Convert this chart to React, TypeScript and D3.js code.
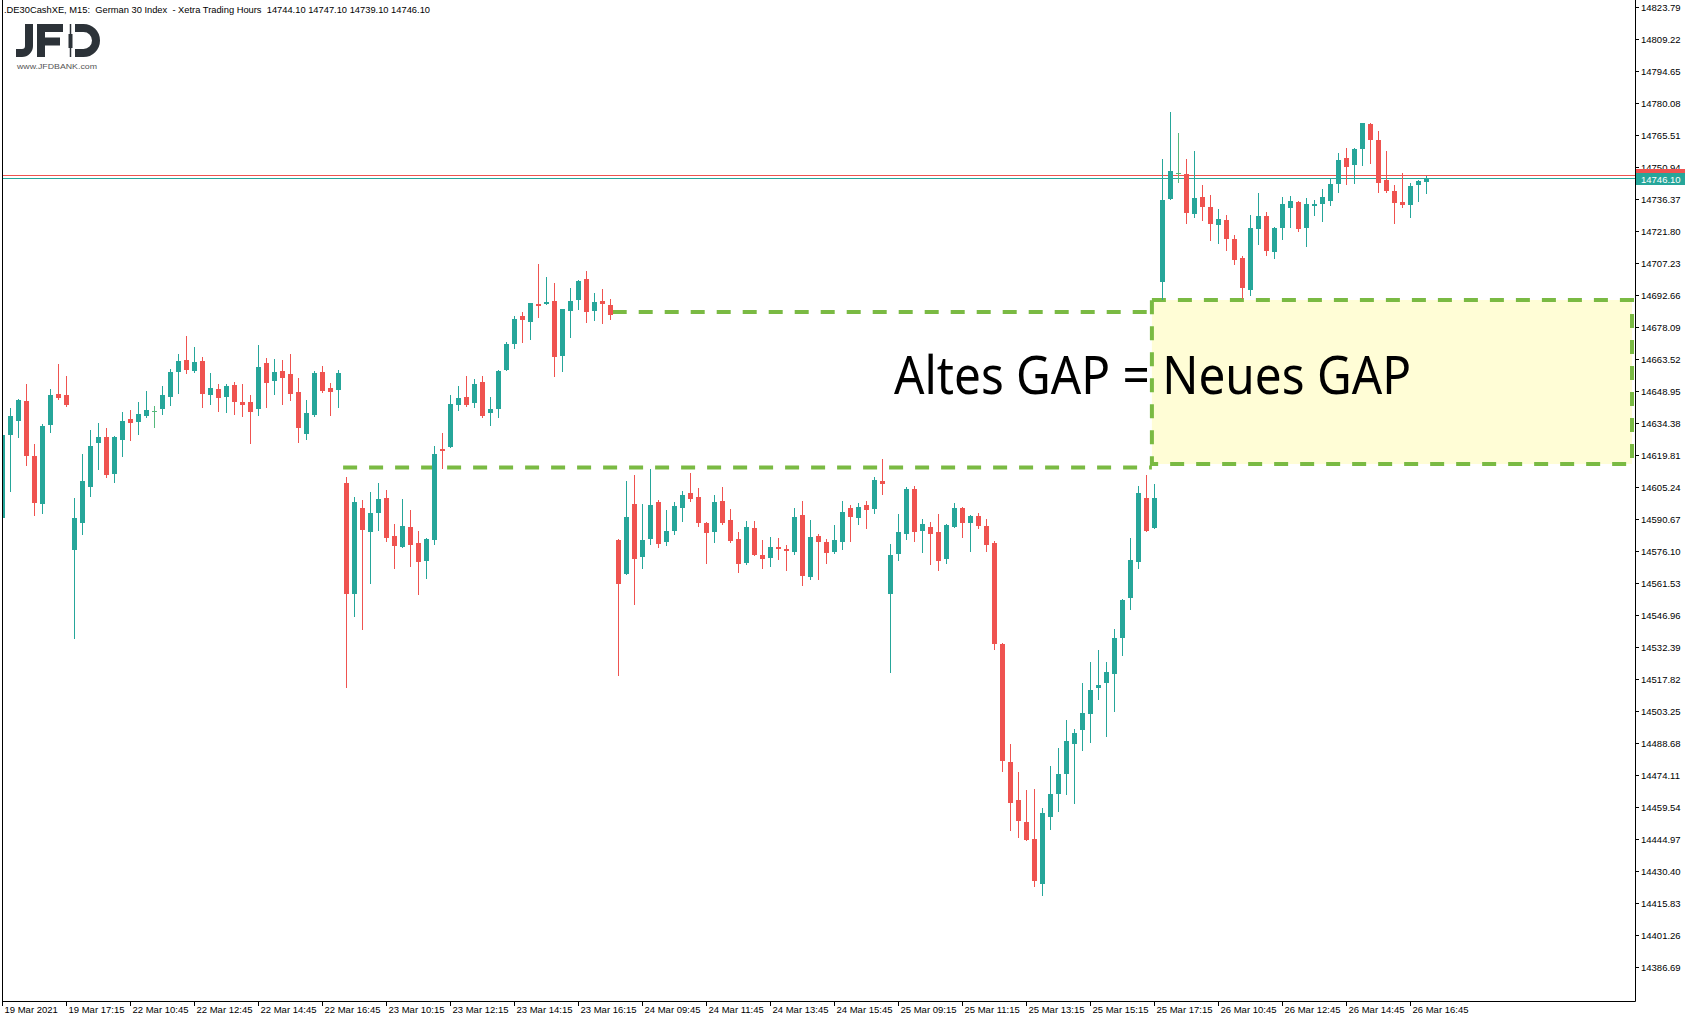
import React, { useEffect } from 'react';
import * as d3 from 'd3';

const W = 1693;
const H = 1020;

// ---- categories (M15 bars, Xetra hours 09:00 - 17:15) ----
const days = ['19 Mar', '22 Mar', '23 Mar', '24 Mar', '25 Mar', '26 Mar'];
const firstDayStartSlot = 25; // 19 Mar starts at 15:15 in view

const opens = [
  14591.4, 14629.0, 14635.6, 14644.5, 14619.5, 14597.8, 14633.7, 14647.7, 14647.2,
  14576.8, 14589.1, 14605.5, 14625.5, 14628.1, 14611.4, 14626.9, 14636.3, 14635.0, 14637.7, 14640.0,
  14640.9, 14646.3, 14657.7, 14663.2, 14658.2, 14662.7, 14647.2, 14650.0, 14646.3, 14651.8,
  14644.1, 14644.1, 14640.9, 14661.8, 14653.6, 14658.2, 14656.8, 14648.6, 14629.5, 14638.1,
  14657.7, 14650.4, 14649.5,
  14607.2, 14556.8, 14595.8, 14585.0, 14593.7, 14600.3, 14583.0, 14578.2, 14587.1, 14579.8,
  14571.8, 14581.4, 14622.8, 14623.7, 14642.8, 14646.3, 14643.8, 14653.2, 14639.2, 14641.0,
  14658.8, 14670.6, 14683.2, 14680.6, 14688.7, 14688.8, 14690.1, 14665.2, 14685.7, 14690.7,
  14700.1, 14685.7, 14690.1, 14688.2,
  14581.2, 14565.9, 14597.6, 14573.6, 14581.8, 14598.5, 14580.3, 14585.3, 14596.0, 14602.6,
  14600.8, 14589.0, 14585.0, 14599.0, 14590.3, 14581.7, 14570.9, 14586.7, 14574.4, 14573.2,
  14578.0, 14577.1, 14575.9, 14592.6, 14564.5, 14583.1, 14580.3, 14575.9, 14580.5, 14595.8,
  14591.4, 14597.2, 14595.5, 14608.1,
  14556.8, 14575.0, 14584.1, 14604.5, 14585.5, 14587.2, 14584.9, 14572.7, 14587.3, 14595.8,
  14589.1, 14592.2, 14587.6, 14579.9, 14534.0, 14480.1, 14462.8, 14452.8, 14445.1, 14424.7,
  14455.2, 14465.7, 14474.8, 14488.5, 14494.9, 14502.1, 14514.0, 14516.3, 14520.4, 14536.8,
  14555.0, 14571.4, 14600.4, 14586.9,
  14698.8, 14736.6, 14748.3, 14747.9, 14729.8, 14737.4, 14732.8, 14724.8, 14726.9, 14718.3,
  14709.6, 14695.2, 14723.0, 14728.7, 14712.5, 14723.4, 14732.5, 14735.1, 14723.4, 14733.5,
  14734.4, 14735.7, 14743.5, 14755.2, 14752.1, 14759.4, 14770.6, 14763.4, 14745.1, 14740.1,
  14735.1, 14733.9, 14743.0, 14744.1,
];
const highs = [
  14629.5, 14641.3, 14645.3, 14652.3, 14624.9, 14634.0, 14650.0, 14661.5, 14656.1,
  14600.3, 14620.4, 14631.3, 14634.5, 14632.2, 14628.4, 14639.5, 14640.4, 14644.1, 14649.1, 14642.2,
  14651.3, 14659.1, 14665.9, 14674.3, 14669.1, 14664.6, 14657.3, 14652.3, 14652.3, 14653.2,
  14652.3, 14647.2, 14670.0, 14664.1, 14663.6, 14663.2, 14665.9, 14655.0, 14645.0, 14658.2,
  14660.5, 14652.7, 14658.6,
  14609.9, 14600.8, 14599.4, 14603.1, 14607.2, 14604.0, 14588.5, 14599.9, 14594.9, 14585.3,
  14581.9, 14624.0, 14629.9, 14647.2, 14651.3, 14655.9, 14654.5, 14655.9, 14646.3, 14658.4,
  14671.4, 14683.2, 14685.0, 14689.3, 14706.9, 14701.0, 14698.3, 14686.6, 14696.0, 14699.6,
  14703.7, 14693.7, 14695.5, 14691.0,
  14581.5, 14608.1, 14610.8, 14597.6, 14613.6, 14599.5, 14594.9, 14598.5, 14603.6, 14611.7,
  14604.9, 14589.3, 14601.7, 14605.4, 14595.4, 14584.9, 14589.9, 14589.9, 14581.2, 14582.6,
  14582.1, 14579.0, 14595.8, 14599.0, 14590.3, 14584.0, 14581.7, 14588.1, 14599.0, 14597.2,
  14598.1, 14599.0, 14609.9, 14618.1,
  14579.4, 14593.1, 14605.4, 14605.8, 14590.8, 14589.4, 14593.1, 14588.5, 14598.1, 14596.3,
  14592.6, 14593.5, 14590.8, 14580.8, 14534.3, 14488.3, 14475.6, 14467.4, 14467.8, 14459.2,
  14478.3, 14486.5, 14499.3, 14495.2, 14516.1, 14525.7, 14531.1, 14525.7, 14540.7, 14554.4,
  14582.1, 14605.8, 14610.8, 14606.7,
  14754.7, 14776.1, 14766.5, 14754.7, 14758.3, 14742.9, 14738.3, 14731.9, 14729.2, 14720.1,
  14710.5, 14729.2, 14739.2, 14730.6, 14723.7, 14737.4, 14737.9, 14735.6, 14736.9, 14736.0,
  14741.0, 14745.6, 14757.4, 14759.7, 14759.7, 14771.1, 14771.1, 14767.5, 14758.3, 14742.9,
  14748.3, 14743.8, 14745.3, 14747.1,
];
const lows = [
  14590.5, 14603.7, 14628.3, 14615.5, 14592.8, 14593.7, 14630.5, 14645.4, 14642.4,
  14536.7, 14584.1, 14601.4, 14613.7, 14610.1, 14607.8, 14619.6, 14626.9, 14629.5, 14637.4, 14632.7,
  14638.6, 14642.7, 14648.2, 14657.4, 14657.9, 14641.8, 14643.2, 14640.0, 14639.5, 14638.6,
  14637.7, 14625.4, 14638.1, 14641.8, 14647.7, 14643.2, 14645.0, 14625.9, 14627.2, 14637.8,
  14648.8, 14638.1, 14641.8,
  14514.4, 14546.8, 14540.8, 14561.8, 14585.9, 14580.9, 14568.6, 14577.9, 14569.5, 14556.8,
  14564.1, 14579.5, 14614.2, 14623.4, 14640.6, 14642.4, 14641.9, 14637.4, 14633.7, 14637.4,
  14658.5, 14668.8, 14671.4, 14672.8, 14682.9, 14688.5, 14656.1, 14658.3, 14673.8, 14686.6,
  14680.6, 14681.6, 14680.2, 14682.0,
  14519.9, 14565.6, 14552.2, 14568.6, 14579.6, 14578.2, 14579.1, 14584.1, 14590.0, 14599.1,
  14587.8, 14570.9, 14580.5, 14588.7, 14580.5, 14566.8, 14570.5, 14574.4, 14568.6, 14569.5,
  14572.7, 14567.7, 14575.0, 14560.9, 14563.6, 14563.6, 14570.9, 14575.5, 14577.3, 14580.9,
  14588.7, 14586.9, 14593.7, 14602.3,
  14521.3, 14572.3, 14581.8, 14580.9, 14575.9, 14570.5, 14567.7, 14570.9, 14587.0, 14582.8,
  14576.4, 14586.9, 14576.4, 14531.7, 14476.2, 14449.3, 14446.1, 14444.5, 14423.8, 14419.7,
  14449.8, 14458.0, 14465.7, 14461.6, 14485.8, 14489.4, 14509.0, 14492.1, 14503.5, 14529.0,
  14550.0, 14568.6, 14585.2, 14586.6,
  14690.8, 14736.3, 14744.4, 14725.7, 14728.4, 14727.1, 14718.0, 14716.6, 14713.4, 14707.0,
  14691.6, 14692.9, 14716.1, 14711.1, 14709.6, 14718.4, 14723.9, 14722.1, 14715.2, 14729.4,
  14726.6, 14733.9, 14739.8, 14743.5, 14743.9, 14752.1, 14753.0, 14739.8, 14739.8, 14725.7,
  14733.0, 14728.4, 14735.7, 14739.1,
];
const closes = [
  14629.0, 14637.7, 14645.0, 14619.6, 14598.2, 14633.1, 14647.2, 14645.9, 14642.7,
  14591.2, 14608.1, 14624.0, 14628.1, 14611.0, 14628.1, 14635.4, 14634.5, 14638.6, 14640.4, 14640.0,
  14647.2, 14657.7, 14662.7, 14658.6, 14662.3, 14647.9, 14650.4, 14645.9, 14651.3, 14644.1,
  14642.9, 14639.5, 14660.0, 14652.7, 14657.7, 14655.0, 14647.7, 14632.2, 14639.1, 14657.3,
  14649.1, 14648.6, 14657.3,
  14556.8, 14598.5, 14585.9, 14593.5, 14599.9, 14582.3, 14578.6, 14587.6, 14579.1, 14571.3,
  14581.7, 14620.4, 14621.9, 14643.2, 14645.9, 14642.8, 14652.3, 14637.8, 14641.0, 14658.2,
  14670.5, 14681.9, 14681.6, 14689.1, 14687.9, 14689.6, 14664.7, 14686.4, 14690.1, 14699.2,
  14685.2, 14689.6, 14688.8, 14683.8,
  14561.3, 14591.7, 14572.7, 14581.2, 14597.2, 14579.6, 14585.3, 14596.7, 14601.7, 14600.1,
  14589.1, 14584.6, 14598.5, 14589.1, 14580.9, 14570.5, 14587.2, 14574.6, 14572.7, 14578.0,
  14577.3, 14576.4, 14591.7, 14565.0, 14582.6, 14580.5, 14575.5, 14581.2, 14594.0, 14591.9,
  14596.3, 14595.0, 14608.6, 14606.9,
  14574.4, 14584.9, 14604.5, 14585.0, 14588.5, 14584.1, 14571.8, 14588.1, 14595.8, 14589.1,
  14592.2, 14587.8, 14579.1, 14534.0, 14480.7, 14461.6, 14453.4, 14444.8, 14426.1, 14456.9,
  14465.6, 14474.7, 14489.7, 14493.3, 14502.5, 14512.9, 14515.2, 14521.1, 14536.6, 14553.9,
  14572.1, 14602.6, 14585.5, 14600.4,
  14736.0, 14749.2, 14748.3, 14730.3, 14736.9, 14733.0, 14725.3, 14727.4, 14718.4, 14708.9,
  14696.1, 14723.3, 14728.7, 14713.0, 14723.3, 14734.2, 14735.6, 14723.0, 14734.2, 14734.1,
  14737.4, 14743.3, 14754.3, 14751.2, 14759.3, 14771.1, 14763.5, 14743.9, 14740.3, 14734.8,
  14733.9, 14742.4, 14744.8, 14746.1,
];

const priceTicks = [
  14823.79, 14809.22, 14794.65, 14780.08, 14765.51, 14750.94, 14736.37, 14721.80, 14707.23,
  14692.66, 14678.09, 14663.52, 14648.95, 14634.38, 14619.81, 14605.24, 14590.67, 14576.10,
  14561.53, 14546.96, 14532.39, 14517.82, 14503.25, 14488.68, 14474.11, 14459.54, 14444.97,
  14430.40, 14415.83, 14401.26, 14386.69,
];
const timeTickLabels = [
  '19 Mar 2021', '19 Mar 17:15', '22 Mar 10:45', '22 Mar 12:45', '22 Mar 14:45', '22 Mar 16:45',
  '23 Mar 10:15', '23 Mar 12:15', '23 Mar 14:15', '23 Mar 16:15', '24 Mar 09:45', '24 Mar 11:45',
  '24 Mar 13:45', '24 Mar 15:45', '25 Mar 09:15', '25 Mar 11:15', '25 Mar 13:15', '25 Mar 15:15',
  '25 Mar 17:15', '26 Mar 10:45', '26 Mar 12:45', '26 Mar 14:45', '26 Mar 16:45',
];

const bidPrice = 14746.1;
const askPrice = 14747.3;
const headerText = '.DE30CashXE, M15:  German 30 Index  - Xetra Trading Hours  14744.10 14747.10 14739.10 14746.10';

// annotation (price levels / bar positions)
const oldGapTop = 14685.0;
const oldGapBottom = 14614.2;
const oldGapTopFromBar = 76.3;
const oldGapBottomFromBar = 42.6;
const newGapTop = 14690.5;
const newGapBottom = 14615.8;
const newGapFromBar = 143.7;
const annotationText = 'Altes GAP = Neues GAP';
const annotationPrice = 14647.5;

// build bar times
const pad = (n: number) => (n < 10 ? '0' + n : '' + n);
const times: string[] = [];
days.forEach((d, di) => {
  for (let s = di === 0 ? firstDayStartSlot : 0; s < 34; s++) {
    const mins = 9 * 60 + s * 15;
    times.push(`${d} ${pad(Math.floor(mins / 60))}:${pad(mins % 60)}`);
  }
});

const UP = '#26a69a';
const DOWN = '#ef5350';
const DOJI = '#55b97c';
const GAPGREEN = '#7aba43';
const AXISFONT = "'Liberation Sans', Arial, sans-serif";

export default function App() {
  useEffect(() => {
    document.body.style.margin = '0';
  }, []);

  const plotL = 2, plotR = 1635, plotT = 0, plotB = 1001;
  const n = opens.length;
  const x = d3.scaleLinear().domain([0, n - 1]).range([2.3, 2.3 + 8 * (n - 1)]);
  const y = d3.scaleLinear().domain([14371.3, 14827.1]).range([plotB, plotT]);

  const bars = d3.range(n).map((i) => ({ i, o: opens[i], h: highs[i], l: lows[i], c: closes[i] }));

  const ticksX = timeTickLabels.map((lab) => {
    const idx = times.indexOf(lab);
    return { lab, i: idx < 0 ? 0 : idx };
  });

  const bidY = Math.round(y(bidPrice)) + 0.5;
  const askY = Math.round(y(askPrice)) + 0.5;
  const boxX0 = x(newGapFromBar);
  const boxX1 = plotR - 3;

  return (
    <svg width={W} height={H} style={{ display: 'block', position: 'absolute', left: 0, top: 0, background: '#fff' }}>
      <defs>
        <clipPath id="plotclip">
          <rect x={plotL + 0.5} y={plotT} width={plotR - plotL - 0.5} height={plotB - plotT} />
        </clipPath>
      </defs>
      <rect x={0} y={0} width={W} height={H} fill="#fff" />

      {/* annotation */}
      <g>
        <rect x={boxX0} y={y(newGapTop)} width={boxX1 - boxX0} height={y(newGapBottom) - y(newGapTop)} fill="#fffdd6" />
        <line x1={x(oldGapTopFromBar)} x2={boxX0} y1={y(oldGapTop)} y2={y(oldGapTop)} stroke={GAPGREEN} strokeWidth={4} strokeDasharray="14 12" />
        <line x1={x(oldGapBottomFromBar)} x2={boxX0} y1={y(oldGapBottom)} y2={y(oldGapBottom)} stroke={GAPGREEN} strokeWidth={4} strokeDasharray="14 12" />
        <rect x={boxX0} y={y(newGapTop)} width={boxX1 - boxX0} height={y(newGapBottom) - y(newGapTop)} fill="none" stroke={GAPGREEN} strokeWidth={4} strokeDasharray="14 12" />
      </g>

      {/* price lines */}
      <line x1={plotL} x2={plotR} y1={askY} y2={askY} stroke={DOWN} strokeWidth={1} />
      <line x1={plotL} x2={plotR} y1={bidY} y2={bidY} stroke={UP} strokeWidth={1} />

      {/* candles */}
      <g clipPath="url(#plotclip)">
        {bars.map((b) => {
          const cx = Math.round(x(b.i));
          const doji = b.o === b.c;
          const col = doji ? DOJI : b.c > b.o ? UP : DOWN;
          const yTop = Math.round(y(Math.max(b.o, b.c)));
          const yBot = Math.round(y(Math.min(b.o, b.c)));
          const hgt = Math.max(1, yBot - yTop);
          return (
            <g key={b.i}>
              <line x1={cx + 0.5} x2={cx + 0.5} y1={Math.round(y(b.h))} y2={Math.round(y(b.l)) + 1} stroke={col} strokeWidth={1} />
              {doji ? (
                <line x1={cx - 2} x2={cx + 3} y1={yTop + 0.5} y2={yTop + 0.5} stroke={col} strokeWidth={1} />
              ) : (
                <rect x={cx - 2} y={yTop} width={5} height={hgt} fill={col} />
              )}
            </g>
          );
        })}
      </g>

      <text x={894} y={y(annotationPrice)} fontFamily="Futura, 'Century Gothic', 'Noto Sans', sans-serif" fontSize={52} fill="#000" textLength={517} lengthAdjust="spacingAndGlyphs">
        {annotationText}
      </text>

      {/* frame */}
      <path d={`M${plotL + 0.5},${plotT} V${plotB + 0.5} H${plotR + 0.5} V${plotT}`} fill="none" stroke="#000" strokeWidth={1} />

      {/* right axis */}
      <g fontFamily={AXISFONT} fontSize={9.5} fill="#000">
        {priceTicks.map((p) => {
          const ty = Math.round(y(p)) + 0.5;
          return (
            <g key={p}>
              <line x1={plotR} x2={plotR + 4} y1={ty} y2={ty} stroke="#000" />
              <text x={plotR + 6} y={ty + 3.5}>{p.toFixed(2)}</text>
            </g>
          );
        })}
      </g>
      <rect x={plotR + 1} y={askY - 6.5} width={49} height={12} fill={DOWN} />
      <rect x={plotR + 1} y={bidY - 5.5} width={49} height={12} fill={UP} />
      <text x={plotR + 6} y={bidY + 4} fontFamily={AXISFONT} fontSize={9.5} fill="#fff">{bidPrice.toFixed(2)}</text>

      {/* bottom axis */}
      <g fontFamily={AXISFONT} fontSize={9.5} fill="#000">
        {ticksX.map((t) => {
          const tx = Math.round(x(t.i)) + 0.5;
          return (
            <g key={t.lab}>
              <line x1={tx} x2={tx} y1={plotB} y2={plotB + 5} stroke="#000" />
              <text x={tx + 2} y={plotB + 12}>{t.lab}</text>
            </g>
          );
        })}
      </g>

      {/* header */}
      <text x={4} y={13} fontFamily={AXISFONT} fontSize={9.5} fill="#000" style={{ whiteSpace: 'pre' }} textLength={426} lengthAdjust="spacingAndGlyphs">
        {headerText}
      </text>

      {/* logo */}
      <g stroke="#2c3238" fill="none" strokeWidth={8}>
        <path d="M29,24 V46 A7,7 0 0 1 22,53 H16" />
        <path d="M41,24 V57 M37,28 H63 M41,41.5 H60" />
        <path d="M75,28 H83.5 A12.5,12.5 0 0 1 96,40.5 A12.5,12.5 0 0 1 83.5,53 H75" />
      </g>
      <line x1={70.5} x2={70.5} y1={24} y2={57} stroke="#2c3238" strokeWidth={1.5} />
      <rect x={68.5} y={34} width={4} height={14} fill="#2c3238" />
      <text x={17} y={69} fontFamily={AXISFONT} fontSize={8} fill="#555" textLength={80} lengthAdjust="spacingAndGlyphs">
        www.JFDBANK.com
      </text>
    </svg>
  );
}
